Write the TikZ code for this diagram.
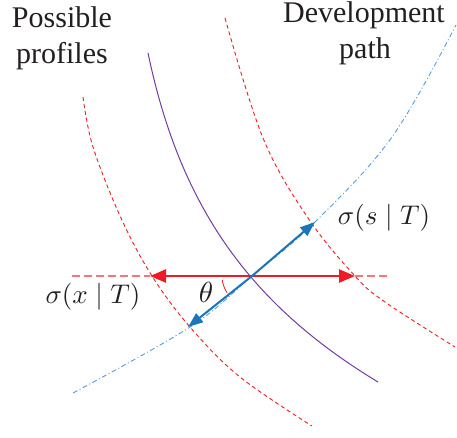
\documentclass[tikz,border=0pt]{standalone}
\usepackage{graphicx}
\usepackage{fontspec}
\newfontfamily\tnrfont{Liberation Serif}
\usetikzlibrary{arrows.meta}
\definecolor{pred}{RGB}{237,28,36}
\definecolor{pblue}{RGB}{27,117,188}
\definecolor{lblue}{RGB}{91,155,213}
\definecolor{ppurple}{RGB}{112,60,160}
\definecolor{ink}{RGB}{35,31,32}
\begin{document}
\begin{tikzpicture}[x=1pt,y=-1pt,
 lbl/.style={text=ink, inner sep=0pt, anchor=base},
 mlbl/.style={text=ink, inner sep=0pt},
 profile/.style={pred, dash pattern=on 4pt off 3pt, line width=0.9pt},
 mainprof/.style={ppurple, line width=1pt},
 devpath/.style={lblue, dash pattern=on 5pt off 2.5pt on 1pt off 2.5pt, line width=0.9pt},
 redarrow/.style={pred, line width=2.6pt, -{Triangle[length=16pt,width=13pt]}},
 bluearrow/.style={pblue, line width=2pt, -{Triangle[length=15pt,width=11pt]}},
 ext/.style={pred!60, dash pattern=on 8pt off 4pt, line width=1.2pt},
 anglearc/.style={pred, line width=0.8pt}]
\useasboundingbox (0,0) rectangle (457,437);

% labels
\node[lbl] (poss1) at (62,27) {\tnrfont\fontsize{30}{36}\selectfont Possible};
\node[lbl] (poss2) at (62,63) {\tnrfont\fontsize{30}{36}\selectfont profiles};
\node[lbl] (dev1) at (364,22) {\tnrfont\fontsize{30}{36}\selectfont Development};
\node[lbl] (dev2) at (365,58) {\tnrfont\fontsize{30}{36}\selectfont path};

% profiles
\draw[profile] plot[smooth, tension=0.6] coordinates {(83,97) (93,147) (121,218) (152,276) (190,327) (240,377) (312,426)};
\draw[mainprof] (148,53) .. controls (180,206) and (249,304) .. (378,382);
\draw[profile] plot[smooth, tension=0.6] coordinates {(225,18) (263,138) (308,218) (355,276) (385,302) (455,347)};

% development path
\draw[devpath] plot[smooth, tension=0.6] coordinates {(73,393) (190,327) (252,276) (315,222) (392,137) (456,25)};

% key points
\coordinate (C) at (252,276);
\coordinate (xl) at (150,276);
\coordinate (xr) at (355,276);
\coordinate (el) at (72,276);
\coordinate (er) at (390,276);
\coordinate (sl) at (188,327);
\coordinate (su) at (315,222);

% extensions
\draw[ext] (el) -- (xl);
\draw[ext] (xr) -- (er);

% arrows
\draw[redarrow] (C) -- (xl);
\draw[redarrow] (C) -- (xr);
\draw[bluearrow] (C) -- (su);
\draw[bluearrow] (C) -- (sl);

% angle
\draw[anglearc] (C) ++(172:30) arc[start angle=172, end angle=146, radius=30];

% math labels
\node[mlbl] (theta) at (206,292) {\fontsize{10}{12}\selectfont\scalebox{2.9}{$\theta$}};
\node[mlbl] (ss) at (384,218) {\fontsize{10}{12}\selectfont\scalebox{2.7}{$\sigma(s\mid T)$}};
\node[mlbl] (sx) at (93,297) {\fontsize{10}{12}\selectfont\scalebox{2.7}{$\sigma(x\mid T)$}};
\end{tikzpicture}
\end{document}
